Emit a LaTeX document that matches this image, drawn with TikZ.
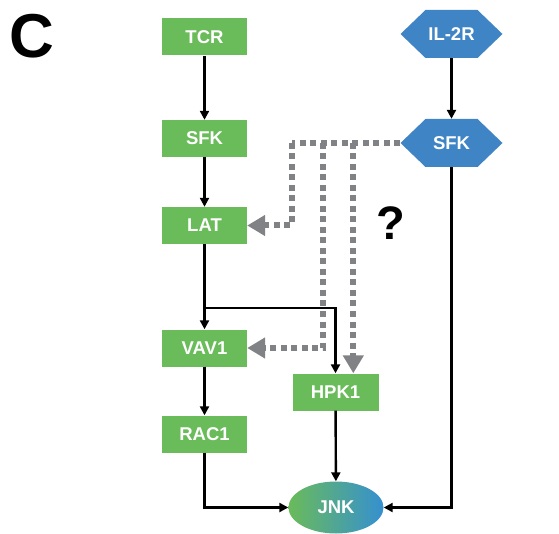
\documentclass[tikz,border=0pt]{standalone}
\usepackage{fontspec}
\setmainfont{Liberation Sans}
\usetikzlibrary{arrows.meta,shapes.geometric,calc}
\definecolor{boxgreen}{HTML}{6ABB5A}
\definecolor{hexblue}{HTML}{3F84C5}
\definecolor{dotgray}{HTML}{808285}
\definecolor{jnkteal}{HTML}{48B48C}
\definecolor{jnkblue}{HTML}{3590D0}
\tikzset{
  gbox/.style={rectangle, fill=boxgreen, minimum width=85pt, minimum height=37pt,
    inner sep=0pt, text=white, font=\fontsize{18.5}{18.5}\selectfont\bfseries},
  hexbox/.style={rectangle, minimum width=102pt, minimum height=48pt, inner sep=0pt,
    text=white, font=\fontsize{18.5}{18.5}\selectfont\bfseries,
    path picture={\fill[hexblue] (path picture bounding box.west)
      -- ([xshift=25pt]path picture bounding box.north west)
      -- ([xshift=-25pt]path picture bounding box.north east)
      -- (path picture bounding box.east)
      -- ([xshift=-25pt]path picture bounding box.south east)
      -- ([xshift=25pt]path picture bounding box.south west) -- cycle;}},
  flow/.style={line width=2.4pt, -{Triangle[length=9pt,width=9pt]}},
  hint/.style={draw=dotgray, line width=6pt, dash pattern=on 6pt off 4.5pt,
    -{Triangle[length=18pt,width=20pt,fill=dotgray]}},
  hintline/.style={draw=dotgray, line width=6pt, dash pattern=on 6pt off 4.5pt}
}
\begin{document}
\begin{tikzpicture}[x=1pt,y=-1pt]
\useasboundingbox (0,0) rectangle (559,534);

% panel letter
\node (panel) at (31.5,36) {\fontsize{62}{62}\selectfont\bfseries C};

% T-cell receptor branch
\node[gbox] (tcr)  at (204.5,37)    {TCR};
\node[gbox] (sfka) at (204.5,138.5) {SFK};
\node[gbox] (lat)  at (204.5,225.5) {LAT};
\node[gbox] (vav)  at (204.5,348)   {VAV1};
\node[gbox] (rac)  at (204.5,434)   {RAC1};
\node[gbox, minimum width=86pt] (hpk) at (335.5,392) {HPK1};

% IL-2 receptor branch
\node[hexbox] (il2r) at (451.5,34)  {IL-2R};
\node[hexbox] (sfkb) at (451.5,143) {SFK};

% target kinase
\node[ellipse, minimum width=95pt, minimum height=52pt, inner sep=0pt,
  left color=boxgreen, middle color=jnkteal, right color=jnkblue,
  text=white, font=\fontsize{18.5}{18.5}\selectfont\bfseries] (jnk) at (336,507.5) {JNK};

\node[font=\fontsize{47}{47}\selectfont\bfseries] (q) at (391,223) {?};

% solid signalling arrows
\draw[flow] (tcr) -- (sfka);
\draw[flow] (sfka) -- (lat);
\draw[flow] (lat) -- (vav);
\draw[flow] (vav) -- (rac);
\coordinate (br) at (204.5,308);
\draw[flow] (br) -| (hpk.north);
\draw[flow] (il2r) -- (sfkb);
\draw[flow] (sfkb.south) |- (jnk.east);
\draw[flow] (rac.south) |- (jnk.west);
\draw[flow] (hpk) -- (jnk);

% proposed (dotted) links
\coordinate (da) at (291.7,143);
\coordinate (db) at (323.3,143);
\coordinate (dc) at (353.3,143);
\draw[hintline] (sfkb.west) -- (da);
\draw[hint] (da) |- (lat.east);
\draw[hint] (db) |- (vav.east);
\draw[hint] (dc) -- (dc |- hpk.north);
\end{tikzpicture}
\end{document}
